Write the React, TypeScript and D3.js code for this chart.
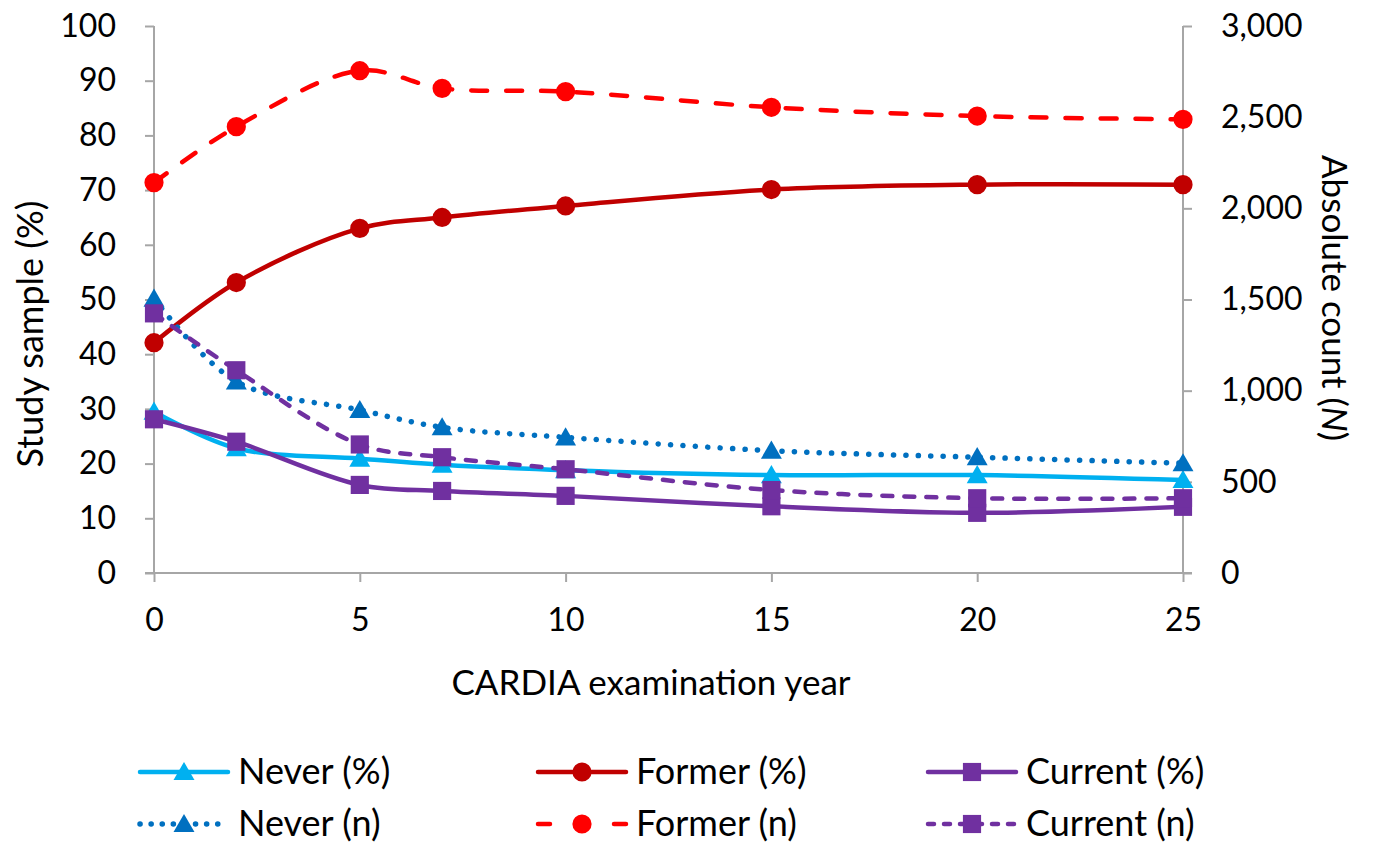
import React, { useRef, useEffect } from 'react';
import * as d3 from 'd3';

const years = [0, 2, 5, 7, 10, 15, 20, 25];

const neverPct = [29.5, 22.8, 20.9, 19.8, 18.8, 17.9, 17.9, 17.0];
const formerPct = [42.1, 53.1, 63.0, 65.0, 67.1, 70.1, 71.0, 71.0];
const currentPct = [28.1, 24.0, 16.1, 15.0, 14.1, 12.2, 11.0, 12.1];

const neverN = [1505, 1050, 894, 799, 744, 671, 635, 602];
const formerN = [2141, 2448, 2755, 2658, 2640, 2554, 2506, 2488];
const currentN = [1424, 1112, 705, 635, 569, 455, 410, 410];

const leftTicks = [0, 10, 20, 30, 40, 50, 60, 70, 80, 90, 100];
const rightTicks = [0, 500, 1000, 1500, 2000, 2500, 3000];
const xTicks = [0, 5, 10, 15, 20, 25];

type Series = {
  label: string;
  values: number[];
  axis: 'left' | 'right';
  color: string;
  dash: string | null;
  legendDash: string | null;
  width: number;
  marker: 'triangle' | 'circle' | 'square';
};

const series: Series[] = [
  { label: 'Never (%)', values: neverPct, axis: 'left', color: '#00B0F0', dash: null, legendDash: null, width: 4.5, marker: 'triangle' },
  { label: 'Former (%)', values: formerPct, axis: 'left', color: '#C00000', dash: null, legendDash: null, width: 4.5, marker: 'circle' },
  { label: 'Current (%)', values: currentPct, axis: 'left', color: '#7030A0', dash: null, legendDash: null, width: 4.5, marker: 'square' },
  { label: 'Never (n)', values: neverN, axis: 'right', color: '#0070C0', dash: '0.1,12.3', legendDash: '0.1,11', width: 5.5, marker: 'triangle' },
  { label: 'Former (n)', values: formerN, axis: 'right', color: '#FF0000', dash: '16,19', legendDash: '12,26', width: 4.5, marker: 'circle' },
  { label: 'Current (n)', values: currentN, axis: 'right', color: '#7030A0', dash: '10,12', legendDash: '6,10', width: 4.5, marker: 'square' },
];

const W = 1376;
const H = 848;
const FONT = 'Lato, "Open Sans", sans-serif';

const symbolFor = (m: Series['marker']) => {
  if (m === 'triangle') return d3.symbol().type(d3.symbolTriangle).size(190)();
  if (m === 'circle') return d3.symbol().type(d3.symbolCircle).size(290)();
  return d3.symbol().type(d3.symbolSquare).size(330)();
};

export default function App() {
  const svgRef = useRef<SVGSVGElement>(null);

  useEffect(() => {
    if (!svgRef.current) return;
    const svg = d3.select(svgRef.current);
    svg.selectAll('*').remove();

    const left = 154, right = 1183, top = 26, bottom = 573;

    const x = d3.scaleLinear().domain([0, 25]).range([left, right]);
    const yL = d3.scaleLinear().domain([0, 100]).range([bottom, top]);
    const yR = d3.scaleLinear().domain([0, 3000]).range([bottom, top]);

    const axisColor = '#A6A6A6';
    const g = svg.append('g');

    // axes
    const axL = g.append('g').attr('transform', `translate(${left},0)`)
      .call(d3.axisLeft(yL).tickValues(leftTicks).tickSize(9).tickPadding(29));
    const axR = g.append('g').attr('transform', `translate(${right},0)`)
      .call(d3.axisRight(yR).tickValues(rightTicks).tickSize(9).tickPadding(28)
        .tickFormat(d3.format(',')));
    const axX = g.append('g').attr('transform', `translate(0,${bottom})`)
      .call(d3.axisBottom(x).tickValues(xTicks).tickSize(9).tickPadding(26));

    [axL, axR, axX].forEach((ax) => {
      ax.select('.domain').attr('stroke', axisColor).attr('stroke-width', 2);
      ax.selectAll('.tick line').attr('stroke', axisColor).attr('stroke-width', 2);
      ax.selectAll('.tick text')
        .attr('fill', '#000')
        .style('font-family', FONT)
        .style('font-size', '32px');
    });
    axL.select('.domain').attr('d', `M0,${bottom}V${top}`);
    axR.select('.domain').attr('d', `M0,${bottom}V${top}`);
    axX.select('.domain').attr('d', `M${left - 9},0H${right + 9}`);
    axR.selectAll('.tick text').attr('text-anchor', 'start').attr('x', 38);

    // axis titles
    svg.append('text')
      .attr('transform', `translate(43,334) rotate(-90)`)
      .attr('text-anchor', 'middle')
      .style('font-family', FONT).style('font-size', '36px')
      .text('Study sample (%)');

    const rt = svg.append('text')
      .attr('transform', `translate(1322,298) rotate(90)`)
      .attr('text-anchor', 'middle')
      .style('font-family', FONT).style('font-size', '35px');
    rt.append('tspan').text('Absolute count (');
    rt.append('tspan').attr('font-style', 'italic').text('N');
    rt.append('tspan').text(')');

    svg.append('text')
      .attr('x', 651)
      .attr('y', 695)
      .attr('text-anchor', 'middle')
      .style('font-family', FONT).style('font-size', '35px')
      .text('CARDIA examination year');

    // series
    const plot = svg.append('g');
    series.forEach((s) => {
      const yS = s.axis === 'left' ? yL : yR;
      const line = d3.line<number>()
        .x((_, i) => x(years[i]))
        .y((d) => yS(d))
        .curve(d3.curveCatmullRom.alpha(0.5));
      const sg = plot.append('g');
      sg.append('path')
        .attr('d', line(s.values) as string)
        .attr('fill', 'none')
        .attr('stroke', s.color)
        .attr('stroke-width', s.width)
        .attr('stroke-linecap', 'round')
        .attr('stroke-dasharray', s.dash)
        .attr('stroke-linejoin', 'round');
      sg.selectAll('path.m')
        .data(s.values)
        .enter()
        .append('path')
        .attr('class', 'm')
        .attr('d', symbolFor(s.marker))
        .attr('transform', (d, i) => `translate(${x(years[i])},${yS(d) + (s.marker === 'triangle' ? 2 : 0)})`)
        .attr('fill', s.color);
    });

    // legend
    const colX = [140, 538, 928];
    const rowY = [772, 824];
    const legend = svg.append('g');
    series.forEach((s, i) => {
      const cx = colX[i % 3];
      const cy = rowY[Math.floor(i / 3)];
      const lg = legend.append('g').attr('transform', `translate(${cx},${cy})`);
      lg.append('line')
        .attr('x1', 0).attr('x2', 88).attr('y1', 0).attr('y2', 0)
        .attr('stroke', s.color)
        .attr('stroke-width', s.width)
        .attr('stroke-linecap', 'round')
        .attr('stroke-dasharray', s.legendDash);
      lg.append('path')
        .attr('d', symbolFor(s.marker))
        .attr('transform', `translate(44,${s.marker === 'triangle' ? 2 : 0})`)
        .attr('fill', s.color);
      lg.append('text')
        .attr('x', 98)
        .attr('y', 12)
        .style('font-family', FONT).style('font-size', '36px')
        .text(s.label);
    });
  }, []);

  return (
    <div style={{ position: 'absolute', left: 0, top: 0, width: W, height: H, background: '#fff' }}>
      <svg ref={svgRef} width={W} height={H} />
    </div>
  );
}
